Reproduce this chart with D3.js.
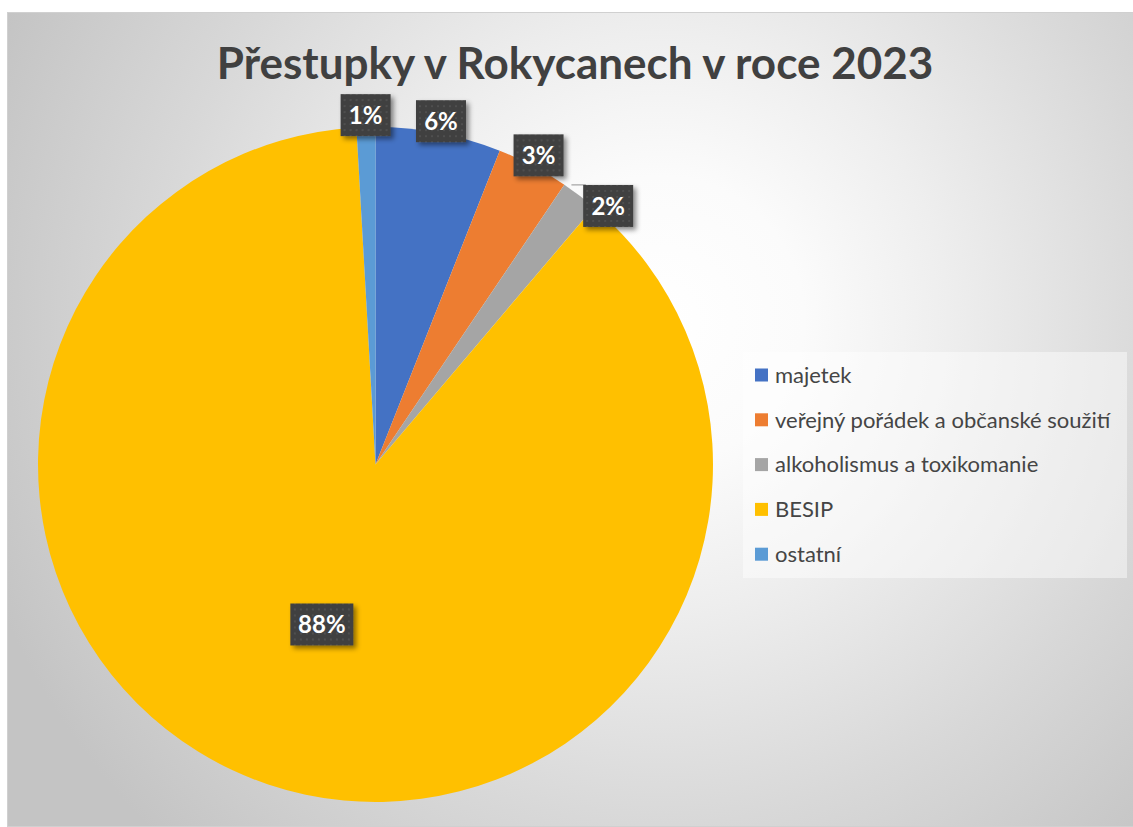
<!DOCTYPE html>
<html>
<head>
<meta charset="utf-8">
<script src="https://cdn.jsdelivr.net/npm/d3@7"></script>
<style>
  html, body { margin: 0; padding: 0; background: #ffffff; }
  svg { display: block; }
</style>
</head>
<body>
<svg id="chart" width="1133" height="827"></svg>
<script>
// ---- data ----
const title = "Přestupky v Rokycanech v roce 2023";
const categories = ["majetek", "veřejný pořádek a občanské soužití", "alkoholismus a toxikomanie", "BESIP", "ostatní"];
const values = [6.0, 3.45, 1.75, 87.9, 0.9];
const colors = ["#4472c4", "#ed7d31", "#a5a5a5", "#ffc000", "#5b9bd5"];

// ---- layout ----
const W = 1133, H = 827;
const frame = {x: 7, y: 12, w: 1126, h: 814};
const cx = 375.5, cy = 464.5, R = 337.5;

const svg = d3.select("#chart");
const defs = svg.append("defs");

const bg = defs.append("radialGradient").attr("id", "bgGrad")
  .attr("gradientUnits", "userSpaceOnUse")
  .attr("cx", 660).attr("cy", 320).attr("r", 720);
[[0, "#ffffff"], [0.2, "#fbfbfb"], [0.4, "#eeeeee"], [0.7, "#d8d8d8"], [1, "#c4c4c4"]]
  .forEach(([o, c]) => bg.append("stop").attr("offset", o).attr("stop-color", c));

const pat = defs.append("pattern").attr("id", "dots")
  .attr("patternUnits", "userSpaceOnUse").attr("width", 6).attr("height", 6);
pat.append("rect").attr("width", 6).attr("height", 6).attr("fill", "#404040");
pat.append("rect").attr("x", 2).attr("y", 2).attr("width", 2).attr("height", 2).attr("fill", "#4f4f4f");

const shadow = defs.append("filter").attr("id", "shadow")
  .attr("x", "-30%").attr("y", "-30%").attr("width", "160%").attr("height", "160%");
shadow.append("feDropShadow").attr("dx", 3).attr("dy", 3).attr("stdDeviation", 2.5)
  .attr("flood-color", "#000").attr("flood-opacity", 0.45);

// background frame
svg.append("rect").attr("x", frame.x + 0.5).attr("y", frame.y + 0.5)
  .attr("width", frame.w).attr("height", frame.h)
  .attr("fill", "url(#bgGrad)").attr("stroke", "#d0d0d0").attr("stroke-width", 1);

// title
svg.append("text").attr("x", 575).attr("y", 79)
  .attr("text-anchor", "middle")
  .attr("font-family", "Lato, 'Open Sans', sans-serif")
  .attr("font-weight", 700).attr("font-size", 44)
  .attr("fill", "#404040")
  .text(title);

// pie
const pie = d3.pie().sort(null).value(d => d).startAngle(0).endAngle(2 * Math.PI);
const arcs = pie(values);
const arc = d3.arc().innerRadius(0).outerRadius(R);

const g = svg.append("g").attr("transform", `translate(${cx},${cy})`);
g.selectAll("path.slice").data(arcs).enter().append("path")
  .attr("class", "slice")
  .attr("d", arc)
  .attr("fill", (d, i) => colors[i]);

// labels
const total = d3.sum(values);
const fmt = v => Math.round(v / total * 100) + "%";
const boxH = 42;
const labelFont = "Lato, 'Open Sans', sans-serif";

const labels = arcs.map((d, i) => {
  const mid = (d.startAngle + d.endAngle) / 2;
  const frac = (d.endAngle - d.startAngle) / (2 * Math.PI);
  const txt = fmt(d.value);
  const w = txt.length > 2 ? 63 : 50;
  let inside = frac > 0.3;
  const dist = inside ? R * 0.5 : R + 12;
  let x = Math.sin(mid) * dist, y = -Math.cos(mid) * dist;
  return {i, mid, txt, w, h: boxH, x, y, inside, moved: false};
});

// simple collision resolution for outside labels: push clockwise along tangent
const outside = labels.filter(l => !l.inside).sort((a, b) => a.mid - b.mid);
function overlaps(a, b, gap) {
  return Math.abs(a.x - b.x) < (a.w + b.w) / 2 + gap && Math.abs(a.y - b.y) < (a.h + b.h) / 2 + gap;
}
for (let k = 1; k < outside.length; k++) {
  const cur = outside[k], prev = outside[k - 1];
  let guard = 0;
  while (overlaps(cur, prev, 0) && guard < 200) {
    cur.x += Math.cos(cur.mid) * 1;
    cur.y += Math.sin(cur.mid) * 1;
    cur.moved = true;
    guard++;
  }
  if (cur.moved) { cur.x += Math.cos(cur.mid) * 24; cur.y += Math.sin(cur.mid) * 30; }
}

// leader lines for moved labels
labels.filter(l => l.moved).forEach(l => {
  const ax = Math.sin(l.mid) * R;
  const bx = l.x - l.w / 2, by = l.y - l.h / 2 + 6;
  g.append("polyline")
    .attr("points", `${ax - 8},${by - 6} ${bx + 2},${by - 6} ${bx + 8},${by}`)
    .attr("fill", "none").attr("stroke", "#a6a6a6").attr("stroke-width", 1.2);
});

const lg = g.selectAll("g.lbl").data(labels).enter().append("g")
  .attr("class", "lbl")
  .attr("transform", d => `translate(${d.x},${d.y})`);
lg.append("rect")
  .attr("x", d => -d.w / 2).attr("y", d => -d.h / 2)
  .attr("width", d => d.w).attr("height", d => d.h)
  .attr("fill", "url(#dots)")
  .attr("filter", "url(#shadow)");
lg.append("text")
  .attr("text-anchor", "middle").attr("dy", "0.36em")
  .attr("font-family", labelFont).attr("font-weight", 700).attr("font-size", 24)
  .attr("fill", "#ffffff")
  .text(d => d.txt);

// legend
const legend = {x: 743, y: 352, w: 384, h: 226, rowH: 44.8, firstY: 375};
svg.append("rect").attr("x", legend.x).attr("y", legend.y)
  .attr("width", legend.w).attr("height", legend.h)
  .attr("fill", "#ffffff").attr("fill-opacity", 0.45);
const li = svg.selectAll("g.li").data(categories).enter().append("g")
  .attr("class", "li")
  .attr("transform", (d, i) => `translate(${legend.x + 12},${legend.firstY + i * legend.rowH})`);
li.append("rect").attr("x", 0).attr("y", -6.5).attr("width", 13).attr("height", 13)
  .attr("fill", (d, i) => colors[i]);
li.append("text").attr("x", 20).attr("dy", "0.35em")
  .attr("font-family", labelFont).attr("font-size", 22)
  .attr("fill", "#454545")
  .text(d => d);
</script>
</body>
</html>
